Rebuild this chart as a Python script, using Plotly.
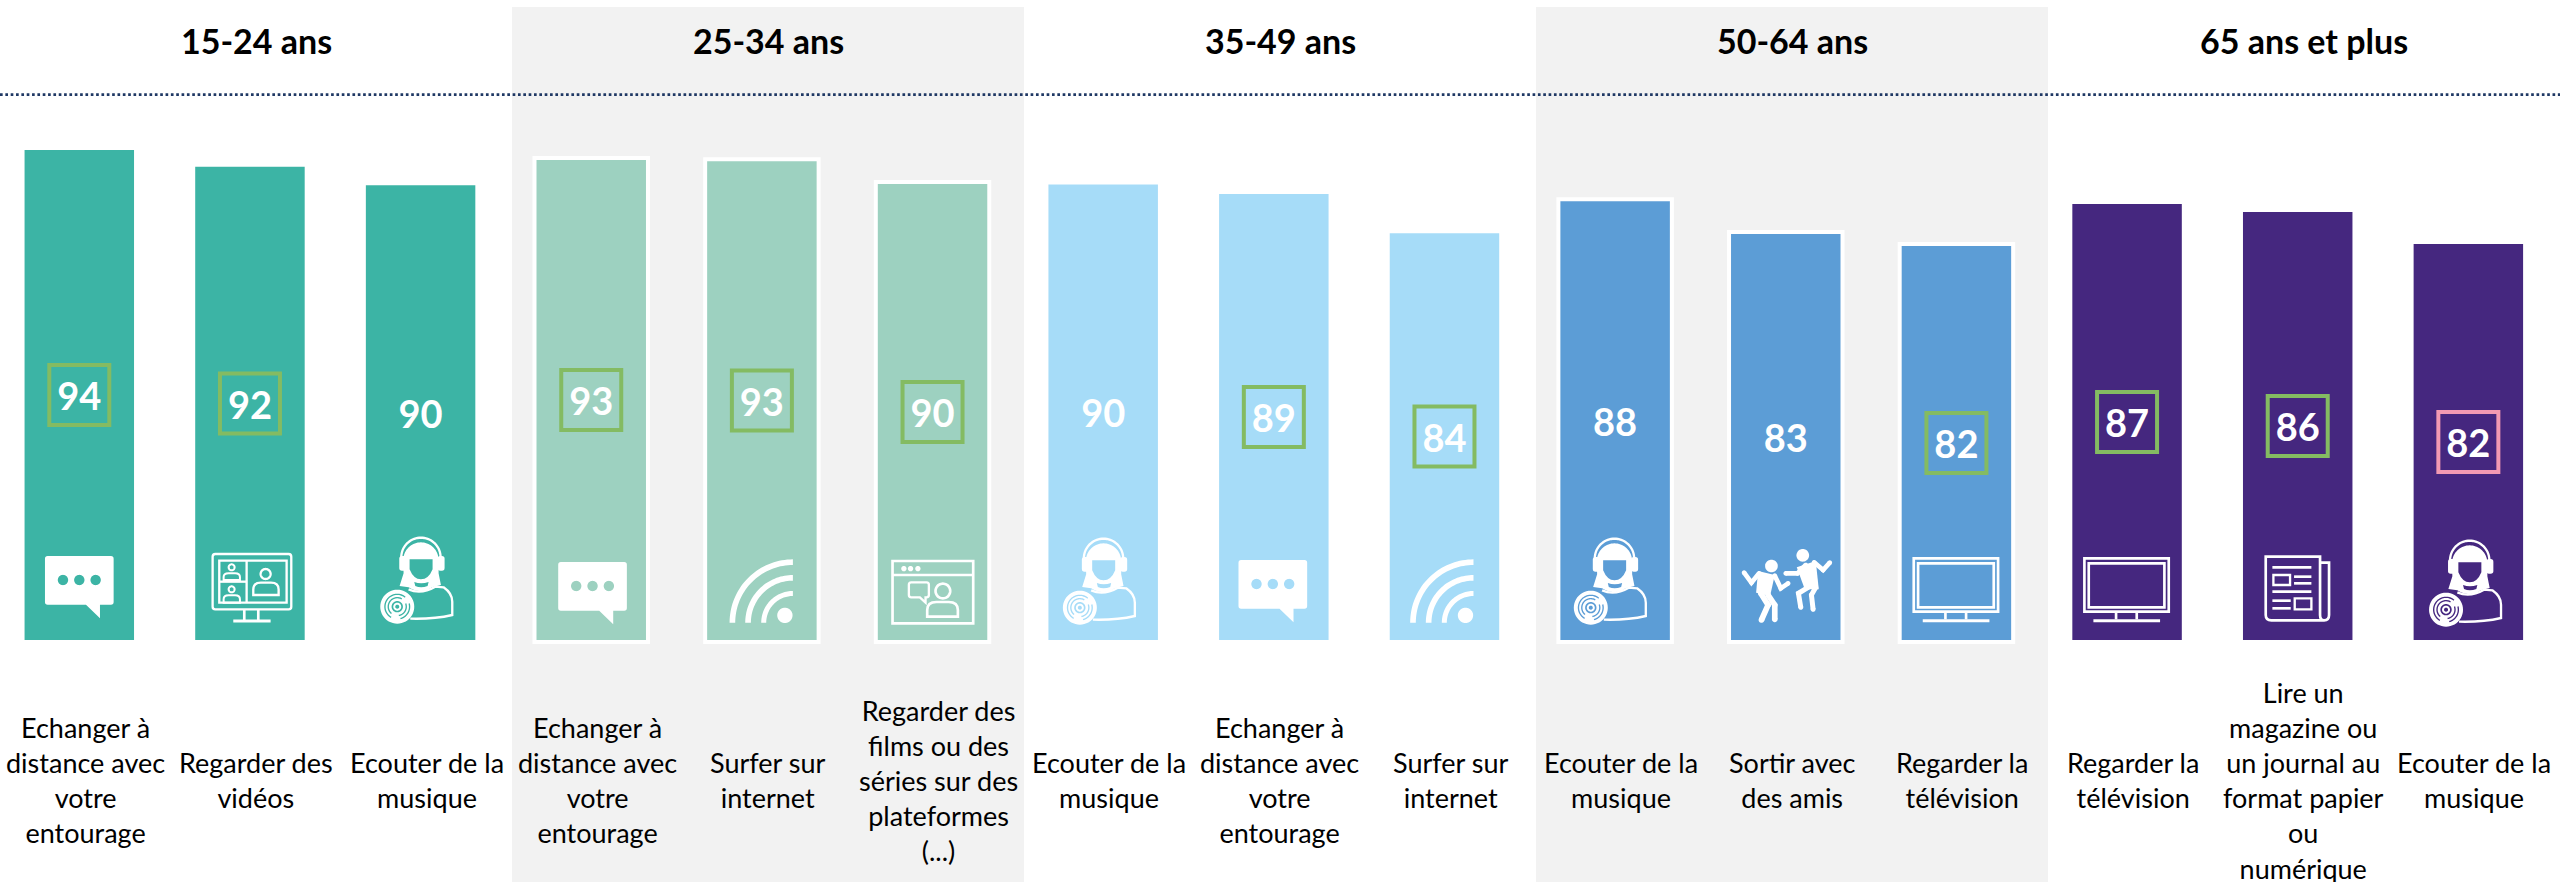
import math
import plotly.graph_objects as go

# ---------- data ----------
groups = ["15-24 ans", "25-34 ans", "35-49 ans", "50-64 ans", "65 ans et plus"]
categories = [
    "Echanger à<br>distance avec<br>votre<br>entourage", "Regarder des<br>vidéos", "Ecouter de la<br>musique",
    "Echanger à<br>distance avec<br>votre<br>entourage", "Surfer sur<br>internet",
    "Regarder des<br>films ou des<br>séries sur des<br>plateformes<br>(...)",
    "Ecouter de la<br>musique", "Echanger à<br>distance avec<br>votre<br>entourage", "Surfer sur<br>internet",
    "Ecouter de la<br>musique", "Sortir avec<br>des amis", "Regarder la<br>télévision",
    "Regarder la<br>télévision", "Lire un<br>magazine ou<br>un journal au<br>format papier<br>ou<br>numérique",
    "Ecouter de la<br>musique",
]
labels = [94, 92, 90, 93, 93, 90, 90, 89, 84, 88, 83, 82, 87, 86, 82]
values = [94.0, 91.9, 89.6, 92.75, 92.6, 89.75, 89.7, 88.5, 83.6, 87.6, 83.5, 82.0, 87.25, 86.25, 82.25]
bar_colors = ["#3cb4a5"] * 3 + ["#9dd1c0"] * 3 + ["#a6dcf8"] * 3 + ["#5c9dd6"] * 3 + ["#45277f"] * 3
box_colors = ["#84bb62", "#84bb62", None, "#84bb62", "#84bb62", "#84bb62", None, "#84bb62", "#84bb62",
              None, None, "#84bb62", "#84bb62", "#84bb62", "#f29ab2"]
icons = ["chat", "video", "music", "chat", "wifi", "web", "music", "chat", "wifi",
         "music", "dance", "tv", "tv", "news", "music"]
# icon nudges in pixels (right, down) for each bar
icon_dx = [0, 0, 0, 1.3, 0, 0, 0, -1, -2, -1, 0, 0, 0, 0, 1]
icon_dy = [0, 0, 0, 6, 0, 0, 1, 4, 0, 1, 0, 0, 0, 0, 3]

BASE = 32.25
positions = list(range(len(values)))
mids = [(v + BASE) / 2 for v in values]
LABEL_DROP = 0.7  # the digits sit slightly under the centre of their box

# ---------- icon drawing helpers (units: 3x crop px) ----------
def arc(cx, cy, r, a0, a1, n=36):
    return [(cx + r * math.cos(math.radians(a0 + (a1 - a0) * k / n)),
             cy + r * math.sin(math.radians(a0 + (a1 - a0) * k / n))) for k in range(n + 1)]

def poly(pts, close=True):
    c = [("M", *pts[0])] + [("L", *p) for p in pts[1:]]
    return c + [("Z",)] if close else c

def circle(cx, cy, r):
    return poly(arc(cx, cy, r, 0, 360, 48))

def band(cx, cy, r0, r1, a0, a1):
    return poly(arc(cx, cy, r1, a0, a1) + arc(cx, cy, r0, a1, a0))

def rect(x0, y0, x1, y1):
    return poly([(x0, y0), (x1, y0), (x1, y1), (x0, y1)])

def rrect(x0, y0, x1, y1, r):
    return [("M", x0 + r, y0), ("L", x1 - r, y0), ("Q", x1, y0, x1, y0 + r), ("L", x1, y1 - r),
            ("Q", x1, y1, x1 - r, y1), ("L", x0 + r, y1), ("Q", x0, y1, x0, y1 - r), ("L", x0, y0 + r),
            ("Q", x0, y0, x0 + r, y0), ("Z",)]

def bust(x0, y0, x1, y1):
    h, w = y1 - y0, x1 - x0
    return [("M", x0, y1), ("L", x0, y0 + h * .55), ("Q", x0, y0, x0 + w * .3, y0), ("L", x1 - w * .3, y0),
            ("Q", x1, y0, x1, y0 + h * .55), ("L", x1, y1), ("Z",)]

def F(c):
    return {"c": c, "w": 0}

def S(c, w=7):
    return {"c": c, "w": w}

def hline(x0, x1, y, w=8):
    return S(poly([(x0, y), (x1, y)], False), w)

def vline(x, y0, y1, w=8):
    return S(poly([(x, y0), (x, y1)], False), w)

def limb(pts, w):
    out = [S(poly(pts, False), w)]
    out += [F(circle(p[0], p[1], w / 2)) for p in pts]
    return out

def icon_chat():
    c = [("M", 42 + 8, 78), ("L", 240, 78), ("Q", 248, 78, 248, 86), ("L", 248, 216), ("Q", 248, 224, 240, 224),
         ("L", 207, 224), ("L", 207, 265), ("L", 165, 224), ("L", 50, 224), ("Q", 42, 224, 42, 216),
         ("L", 42, 86), ("Q", 42, 78, 50, 78), ("Z",)]
    for x in (96, 145, 194):
        c += circle(x, 150, 15.5)
    return 145, [F(c)]

def icon_video():
    e = [S(rrect(548, 72, 784, 238, 8)), S(rect(568, 92, 770, 218)), vline(650, 92, 218, 7), hline(568, 650, 155, 7),
         vline(643, 240, 270), vline(685, 240, 270), hline(610, 722, 273, 9)]
    e += [S(circle(707, 132, 15)), S(bust(670, 158, 746, 195)), S(circle(605, 112, 9), 6), S(bust(581, 130, 630, 150), 6),
          S(circle(605, 178, 9), 6), S(bust(581, 196, 630, 218), 6)]
    return 660, e

def icon_music():
    body = [("M", 1135, 178), ("Q", 1172, 195, 1215, 170), ("L", 1240, 172), ("Q", 1266, 190, 1266, 215), ("L", 1266, 255),
            ("Q", 1210, 268, 1140, 266)]
    hair = [("M", *arc(1172, 90, 53, 180, 360)[0])] + [("L", *p) for p in arc(1172, 90, 53, 180, 360)[1:]]
    hair += [("L", 1225, 130), ("L", 1232, 165), ("L", 1205, 172), ("Q", 1172, 195, 1135, 172), ("L", 1108, 168), ("L", 1120, 130), ("Z",)]
    hair += [("M", 1138, 88), ("L", 1207, 88), ("L", 1207, 118), ("Q", 1195, 148, 1172, 148), ("Q", 1150, 148, 1138, 118), ("Z",)]
    hair += [("M", 1152, 156), ("Q", 1172, 164, 1195, 156), ("L", 1192, 168), ("Q", 1172, 176, 1155, 168), ("Z",)]
    disc = circle(1101, 230, 51) + circle(1101, 230, 17) + circle(1101, 230, 12) + circle(1101, 230, 6)
    disc += band(1101, 230, 25, 29, 130, 300) + band(1101, 230, 35, 39, 120, 310)
    disc += band(1101, 230, 25, 29, 340, 440) + band(1101, 230, 35, 39, 345, 435)
    return 1171, [S(poly(arc(1172, 82, 59, 180, 360), False), 7), F(hair), F(rrect(1107, 78, 1128, 122, 8)), F(rrect(1222, 78, 1243, 122, 8)),
                  S(body, 7), F(disc)]

def icon_wifi():
    cx, cy = 278, 248
    c = band(cx, cy, 173, 190, 180, 270) + band(cx, cy, 126, 143, 180, 270) + band(cx, cy, 80, 95, 180, 270) + circle(254, 226, 23)
    return 185, [F(c)]

def icon_web():
    e = [S(rect(576, 63, 818, 250), 8), hline(576, 818, 105, 8)]
    e += [F(circle(x, 86, 8)) for x in (610, 630, 652)]
    e += [S([("M", 632, 127), ("L", 678, 127), ("Q", 685, 127, 685, 134), ("L", 685, 165), ("Q", 685, 172, 678, 172),
             ("L", 675, 172), ("L", 675, 188), ("L", 658, 172), ("L", 632, 172), ("Q", 625, 172, 625, 165),
             ("L", 625, 134), ("Q", 625, 127, 632, 127), ("Z",)], 7)]
    e += [S(circle(727, 153, 22), 8), S(bust(680, 186, 772, 230), 8)]
    return 696, e

def icon_dance():
    e = [F(circle(602, 108, 19)), F(circle(696, 76, 19))]
    e += [F(poly([(562, 123), (612, 135), (598, 198), (556, 188)]))]
    e += limb([(520, 128), (542, 158), (565, 130)], 14) + limb([(612, 137), (630, 175), (652, 160)], 14)
    e += limb([(570, 190), (592, 225), (572, 270)], 17) + limb([(592, 195), (612, 225), (612, 268)], 17)
    e += [F(poly([(678, 112), (735, 93), (744, 178), (702, 178)]))]
    e += limb([(645, 130), (680, 130), (705, 105)], 14) + limb([(730, 97), (757, 120), (777, 98)], 14)
    e += limb([(712, 172), (683, 190), (690, 232)], 15) + limb([(735, 172), (722, 195), (727, 238)], 15)
    return 645, e

def icon_tv():
    e = [S(rect(1030, 85, 1283, 245), 8), S(rect(1043, 100, 1270, 232), 8), vline(1125, 247, 268, 8), vline(1187, 247, 268, 8),
         hline(1057, 1257, 272, 9)]
    return 1158, e

def icon_news():
    e = [S([("M", 748, 98), ("L", 775, 98), ("L", 775, 255), ("Q", 775, 271, 760, 271), ("L", 602, 271),
            ("Q", 585, 271, 585, 255), ("L", 585, 80), ("L", 748, 80), ("L", 748, 255), ("Q", 748, 271, 760, 271)], 8)]
    e += [hline(605, 722, 112), S(rect(608, 135, 658, 165)), hline(670, 722, 140), hline(670, 722, 160), hline(605, 722, 185),
          hline(605, 660, 212), hline(605, 660, 235), S(rect(672, 205, 722, 238))]
    return 681, e

ICONS = {"chat": icon_chat, "video": icon_video, "music": icon_music, "wifi": icon_wifi, "web": icon_web,
         "dance": icon_dance, "tv": icon_tv, "news": icon_news}
# rows in the crops: the bottom edge of each icon's crop (3x units)
ICON_BOTTOM = {"chat": 330, "video": 330, "music": 330, "wifi": 300, "web": 300, "dance": 330, "tv": 330, "news": 330}

def to_path(cmds, cx, bottom, dx, dy):
    out = []
    for cmd in cmds:
        nums = cmd[1:]
        pts = []
        for k in range(0, len(nums), 2):
            X = (nums[k] - cx) / 3 + dx
            Y = (nums[k + 1] - bottom) / 3 + dy
            pts.append(f"{X:.2f},{-Y:.2f}")
        out.append(cmd[0] + " ".join(pts))
    return " ".join(out)

# ---------- figure ----------
fig = go.Figure()
fig.add_trace(go.Bar(x=positions, y=[v - BASE for v in values], base=BASE, width=0.665,
                     marker=dict(color=bar_colors, line=dict(color="white", width=4)),
                     hoverinfo="skip", showlegend=False))

bx = [p for p, c in zip(positions, box_colors) if c]
by = [m for m, c in zip(mids, box_colors) if c]
bc = [c for c in box_colors if c]
fig.add_trace(go.Scatter(x=bx, y=by, mode="markers", hoverinfo="skip", showlegend=False,
                         marker=dict(symbol="square-open", size=60, color=bc, line=dict(width=4))))
fig.add_trace(go.Scatter(x=positions, y=[m - LABEL_DROP for m in mids], mode="text", text=[str(v) for v in labels],
                         textposition="middle center",
                         textfont=dict(family="Lato", size=38, color="white", weight="bold"),
                         hoverinfo="skip", showlegend=False))

shapes = []
for x0 in (0.2, 0.6):
    shapes.append(dict(type="rect", xref="paper", yref="paper", x0=x0, x1=x0 + 0.2, y0=0, y1=1 - 7 / 882,
                       fillcolor="#f2f2f2", line_width=0, layer="below"))
shapes.append(dict(type="line", xref="paper", yref="paper", x0=0, x1=1, y0=1 - 94.7 / 882, y1=1 - 94.7 / 882,
                   line=dict(color="#1f3864", width=2.67, dash="2.67px,2.67px"), layer="above"))
for i, name in enumerate(icons):
    cx, els = ICONS[name]()
    for el in els:
        d = to_path(el["c"], cx, ICON_BOTTOM[name], icon_dx[i], icon_dy[i])
        filled = el["w"] == 0
        shapes.append(dict(type="path", path=d, xref="x", yref="y", xsizemode="pixel", ysizemode="pixel",
                           xanchor=i, yanchor=BASE + 0.25,
                           fillcolor="white" if filled else "rgba(0,0,0,0)",
                           line=dict(color="white", width=0 if filled else el["w"] / 3), layer="above"))

annotations = []
for k, g in enumerate(groups):
    annotations.append(dict(text=f"<b>{g}</b>", xref="paper", yref="paper", x=0.1 + 0.2 * k, y=1 - 41 / 882,
                            xanchor="center", yanchor="middle", showarrow=False,
                            font=dict(family="Lato", size=34, color="black")))
for i, c in enumerate(categories):
    annotations.append(dict(text=c, x=i, xref="x", yref="paper", y=1 - 780 / 882, xshift=6, xanchor="center",
                            yanchor="middle", showarrow=False, align="center",
                            font=dict(family="Lato", size=27, color="black")))

fig.update_layout(width=2560, height=882, margin=dict(l=0, r=0, t=0, b=0, pad=0), autosize=False,
                  paper_bgcolor="white", plot_bgcolor="rgba(0,0,0,0)", showlegend=False,
                  shapes=shapes, annotations=annotations, hovermode=False,
                  xaxis=dict(range=[-0.4647, 14.537], visible=False, fixedrange=True),
                  yaxis=dict(range=[2.25, 112.5], visible=False, fixedrange=True))
fig.write_html("out.html", config={"displayModeBar": False},
               post_script="document.body.style.margin='0';document.documentElement.style.overflow='hidden';")
